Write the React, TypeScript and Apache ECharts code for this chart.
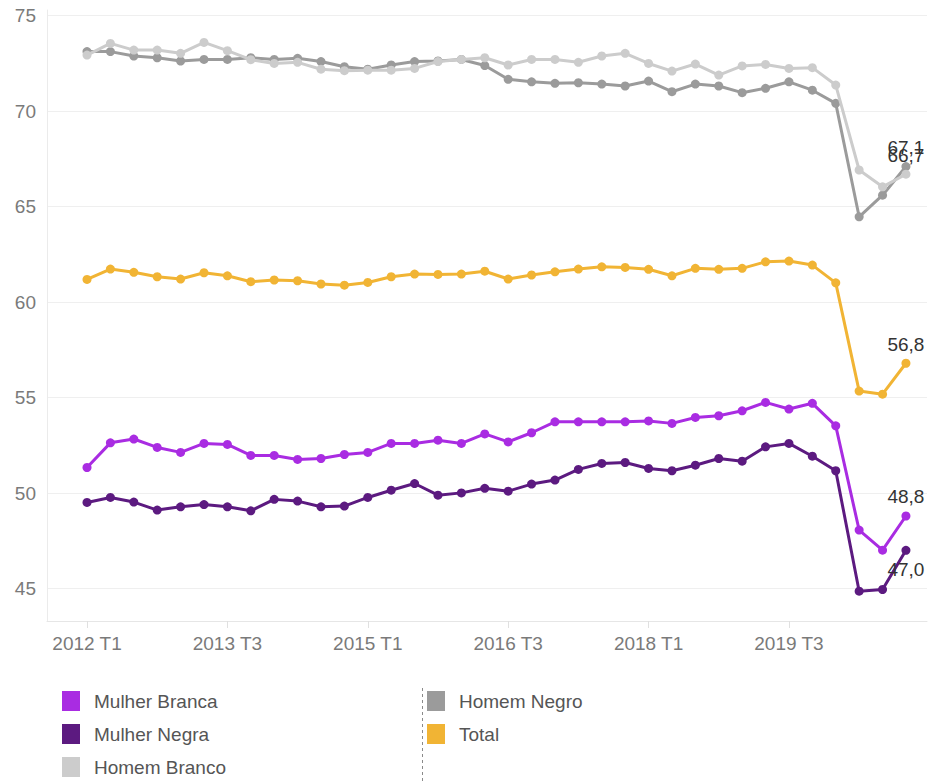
import React, { useEffect, useRef } from "react";
import * as echarts from "echarts";

const quarters = [
  "2012 T1", "2012 T2", "2012 T3", "2012 T4",
  "2013 T1", "2013 T2", "2013 T3", "2013 T4",
  "2014 T1", "2014 T2", "2014 T3", "2014 T4",
  "2015 T1", "2015 T2", "2015 T3", "2015 T4",
  "2016 T1", "2016 T2", "2016 T3", "2016 T4",
  "2017 T1", "2017 T2", "2017 T3", "2017 T4",
  "2018 T1", "2018 T2", "2018 T3", "2018 T4",
  "2019 T1", "2019 T2", "2019 T3", "2019 T4",
  "2020 T1", "2020 T2", "2020 T3", "2020 T4",
];

const xTickIndices = [0, 6, 12, 18, 24, 30];
const yTickValues = [45, 50, 55, 60, 65, 70, 75];

const mulherBranca = [51.34, 52.63, 52.83, 52.39, 52.13, 52.6, 52.55, 51.97, 51.97, 51.76, 51.81, 52.02, 52.13, 52.6, 52.6, 52.77, 52.6, 53.1, 52.68, 53.16, 53.73, 53.73, 53.73, 53.73, 53.78, 53.65, 53.96, 54.05, 54.31, 54.75, 54.4, 54.7, 53.52, 48.06, 47.01, 48.8];
const mulherNegra = [49.51, 49.77, 49.53, 49.11, 49.28, 49.4, 49.28, 49.07, 49.67, 49.58, 49.28, 49.32, 49.77, 50.15, 50.5, 49.89, 50.01, 50.25, 50.1, 50.47, 50.68, 51.24, 51.55, 51.6, 51.29, 51.17, 51.46, 51.81, 51.67, 52.42, 52.6, 51.93, 51.17, 44.86, 44.95, 47.0];
const homemBranco = [72.94, 73.55, 73.2, 73.2, 73.03, 73.6, 73.17, 72.7, 72.5, 72.56, 72.2, 72.12, 72.15, 72.15, 72.24, 72.6, 72.71, 72.8, 72.42, 72.71, 72.71, 72.56, 72.89, 73.03, 72.5, 72.1, 72.47, 71.89, 72.37, 72.45, 72.24, 72.28, 71.37, 66.92, 66.04, 66.7];
const homemNegro = [73.12, 73.12, 72.89, 72.8, 72.63, 72.71, 72.71, 72.8, 72.71, 72.77, 72.6, 72.33, 72.2, 72.42, 72.6, 72.63, 72.71, 72.39, 71.67, 71.54, 71.46, 71.49, 71.42, 71.32, 71.58, 71.02, 71.42, 71.32, 70.97, 71.2, 71.54, 71.1, 70.41, 64.47, 65.6, 67.1];
const total = [61.19, 61.73, 61.56, 61.33, 61.21, 61.54, 61.38, 61.07, 61.16, 61.12, 60.95, 60.89, 61.03, 61.33, 61.47, 61.45, 61.47, 61.62, 61.21, 61.42, 61.59, 61.73, 61.85, 61.82, 61.72, 61.38, 61.77, 61.72, 61.77, 62.11, 62.15, 61.94, 61.01, 55.34, 55.18, 56.8];

const FONT = "Liberation Sans";

type SeriesDef = { name: string; values: number[]; color: string; labelPos: string; z: number };

const seriesDefs: SeriesDef[] = [
  { name: "Mulher Branca", values: mulherBranca, color: "#A92CE2", labelPos: "top", z: 3 },
  { name: "Mulher Negra", values: mulherNegra, color: "#5C1A80", labelPos: "bottom", z: 4 },
  { name: "Homem Negro", values: homemNegro, color: "#9B9B9B", labelPos: "top", z: 5 },
  { name: "Homem Branco", values: homemBranco, color: "#CCCCCC", labelPos: "top", z: 6 },
  { name: "Total", values: total, color: "#F1B434", labelPos: "top", z: 7 },
];

const fmt = (v: number) => v.toFixed(1).replace(".", ",");

export default function App() {
  const ref = useRef<HTMLDivElement>(null);
  useEffect(() => {
    document.body.style.margin = "0";
    if (!ref.current) return;
    const chart = echarts.init(ref.current, null, { renderer: "svg" });
    const series = seriesDefs.map((s) => ({
      name: s.name,
      type: "line",
      z: s.z,
      symbol: "circle",
      symbolSize: 9,
      lineStyle: { width: 3, color: s.color },
      itemStyle: { color: s.color },
      emphasis: { disabled: true },
      data: s.values.map((v, i) =>
        i === s.values.length - 1
          ? {
              value: [i, v],
              label: {
                show: true,
                position: s.labelPos,
                distance: 5,
                formatter: (p: any) => fmt(p.value[1]),
                color: "#333333",
                fontFamily: FONT,
                fontSize: 19,
              },
            }
          : [i, v]
      ),
    }));
    const legendCommon = {
      orient: "vertical",
      top: 691,
      padding: 0,
      icon: "rect",
      itemWidth: 18,
      itemHeight: 20,
      itemGap: 13,
      selectedMode: false,
      textStyle: { color: "#555555", fontFamily: FONT, fontSize: 19, padding: [0, 0, 0, 9] },
    };
    chart.setOption({
      animation: false,
      backgroundColor: "#ffffff",
      grid: { left: 47, right: 4, top: 10, bottom: 161, containLabel: false },
      xAxis: {
        type: "value",
        min: -1.71,
        max: 35.9,
        axisLine: { show: true, onZero: false, lineStyle: { color: "#E6E6E6", width: 1 } },
        axisTick: { show: true, length: 7, lineStyle: { color: "#E0E0E0" }, customValues: xTickIndices },
        axisLabel: {
          customValues: xTickIndices,
          formatter: (v: number) => quarters[Math.round(v)] ?? "",
          color: "#7A7A7A",
          fontFamily: FONT,
          fontSize: 19,
          margin: 13,
        },
        splitLine: { show: false },
      },
      yAxis: {
        type: "value",
        min: 43.3,
        max: 75.3,
        axisLine: { show: true, onZero: false, lineStyle: { color: "#EBEBEB", width: 1 } },
        axisTick: { show: false, customValues: yTickValues },
        axisLabel: {
          customValues: yTickValues,
          color: "#7A7A7A",
          fontFamily: FONT,
          fontSize: 19,
          margin: 11,
        },
        splitLine: { show: true, lineStyle: { color: "#EFEFEF", width: 1 } },
      },
      legend: [
        { ...legendCommon, data: ["Mulher Branca", "Mulher Negra", "Homem Branco"], left: 62 },
        { ...legendCommon, data: ["Homem Negro", "Total"], left: 427 },
      ],
      graphic: [
        {
          type: "line",
          shape: { x1: 422.5, y1: 688, x2: 422.5, y2: 782 },
          style: { stroke: "#8A8A8A", lineWidth: 1, lineDash: [3, 3] },
        },
      ],
      series,
    });
    return () => chart.dispose();
  }, []);
  return <div ref={ref} style={{ width: 931, height: 782 }} />;
}
